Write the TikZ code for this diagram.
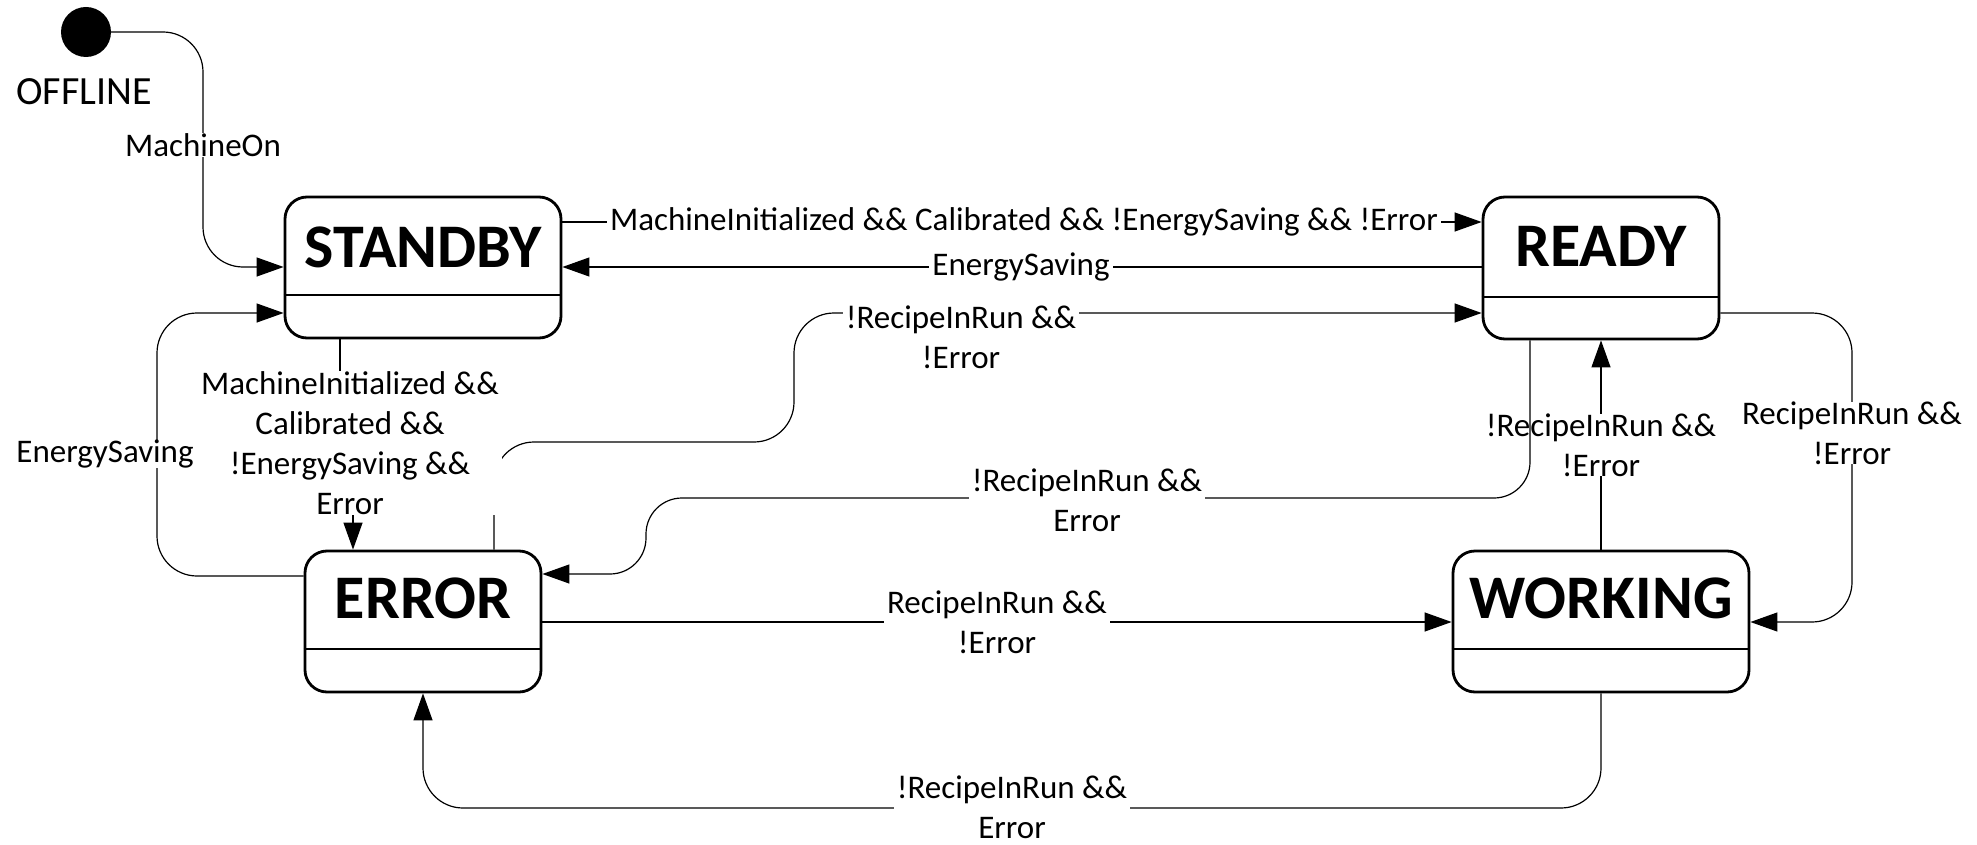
\documentclass[tikz,border=0pt]{standalone}
\usepackage{fontspec}
\setmainfont{Carlito}
\usetikzlibrary{arrows.meta}

\begin{document}
\begin{tikzpicture}[x=1pt,y=-1pt,
  statebox/.style={draw, line width=2.8pt, rounded corners=22pt, inner sep=0pt},
  title/.style={font=\bfseries\fontsize{62}{70}\selectfont, inner sep=0pt},
  conn/.style={line width=1.2pt, -{Triangle[length=27pt,width=19pt]}},
  rc/.style={rounded corners=40pt},
  lbl/.style={font=\fontsize{33}{40}\selectfont, align=center, fill=white, inner xsep=3pt, inner ysep=0pt}]

\useasboundingbox (0,0) rectangle (1977,845);

% initial pseudo-state
\node[circle, fill=black, minimum size=50pt, inner sep=0pt] (init) at (86,32) {};
\node[font=\fontsize{40}{48}\selectfont, inner sep=0pt] (offline) at (84,92) {OFFLINE};

% states
\node[statebox, minimum width=276pt, minimum height=141pt] (standby) at (423,267.5) {};
\node[title] (standbyT) at (423,247) {STANDBY};
\draw[line width=2.8pt] (standby.west |- 0,295) -- (standby.east |- 0,295);

\node[statebox, minimum width=236pt, minimum height=142pt] (ready) at (1601,268) {};
\node[title] (readyT) at (1601,246) {READY};
\draw[line width=2.8pt] (ready.west |- 0,297) -- (ready.east |- 0,297);

\node[statebox, minimum width=236pt, minimum height=141pt] (error) at (423,621.5) {};
\node[title] (errorT) at (423,598) {ERROR};
\draw[line width=2.8pt] (error.west |- 0,649) -- (error.east |- 0,649);

\node[statebox, minimum width=296pt, minimum height=141pt] (working) at (1601,621.5) {};
\node[title] (workingT) at (1601,598) {WORKING};
\draw[line width=2.8pt] (working.west |- 0,649) -- (working.east |- 0,649);

% OFFLINE -> STANDBY
\draw[conn, rc] (init.east) -- (203,32) -- (203,267) -- (standby.west |- 0,267);
\node[lbl] (lOn) at (203,145) {MachineOn};

% STANDBY -> READY
\draw[conn] (standby.east |- 0,222) -- (ready.west |- 0,222);
\node[lbl] (lSR) at (1024,222) {MachineInitialized \&\& Calibrated \&\& !EnergySaving \&\& !Error};

% READY -> STANDBY
\draw[conn] (ready.west |- 0,267) -- (standby.east |- 0,267);
\node[lbl] (lRS) at (1021,267) {EnergySaving};

% ERROR -> READY
\draw[conn, rc] (error.north -| 494,0) -- (494,442) -- (794,442) -- (794,313) -- (ready.west |- 0,313);
\node[lbl] (lER) at (961,337) {!RecipeInRun \&\&\\!Error};

% STANDBY -> ERROR
\draw[conn] (standby.south -| 340,0) -- (340,443) -- (353,443) -- (error.north -| 353,0);
\node[lbl] (lSE) at (350,443) {MachineInitialized \&\&\\Calibrated \&\&\\!EnergySaving \&\&\\Error};

% ERROR -> STANDBY
\draw[conn, rc] (error.west |- 0,576) -- (157,576) -- (157,313) -- (standby.west |- 0,313);
\node[lbl] (lES) at (105,454) {EnergySaving};

% WORKING -> READY
\draw[conn] (working.north) -- (ready.south);
\node[lbl] (lWR) at (1601,445) {!RecipeInRun \&\&\\!Error};

% READY -> ERROR
\draw[conn, rounded corners=36pt] (ready.south -| 1530,0) -- (1530,498) -- (646,498) -- (646,574) -- (error.east |- 0,574);
\node[lbl] (lRE) at (1087,500) {!RecipeInRun \&\&\\Error};

% ERROR -> WORKING
\draw[conn] (error.east |- 0,622) -- (working.west |- 0,622);
\node[lbl] (lEW) at (997,622) {RecipeInRun \&\&\\!Error};

% READY -> WORKING
\draw[conn, rc] (ready.east |- 0,313) -- (1852,313) -- (1852,622) -- (working.east |- 0,622);
\node[lbl] (lRW) at (1852,433) {RecipeInRun \&\&\\!Error};

% WORKING -> ERROR
\draw[conn, rc] (working.south) -- (1601,808) -- (423,808) -- (error.south);
\node[lbl] (lWE) at (1012,807) {!RecipeInRun \&\&\\Error};

\end{tikzpicture}
\end{document}
